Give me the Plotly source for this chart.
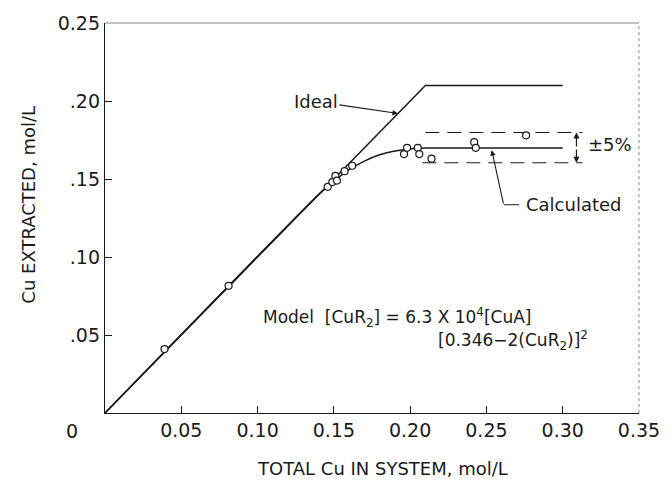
import plotly.graph_objects as go

# ---- data ----
ideal_x = [0.0, 0.21, 0.30]
ideal_y = [0.0, 0.21, 0.21]

calc_x = [0.0, 0.14, 0.15, 0.16, 0.17, 0.18, 0.19, 0.20, 0.21, 0.30]
calc_y = [0.0, 0.14, 0.1485, 0.156, 0.1615, 0.1655, 0.168, 0.1693, 0.1698, 0.1698]

meas_x = [0.039, 0.081, 0.146, 0.149, 0.151, 0.152, 0.157, 0.162,
          0.196, 0.198, 0.205, 0.206, 0.214, 0.242, 0.243, 0.276]
meas_y = [0.041, 0.0815, 0.145, 0.148, 0.152, 0.149, 0.155, 0.1585,
          0.166, 0.170, 0.170, 0.166, 0.163, 0.1736, 0.170, 0.178]

band_x_upper = [0.21, 0.313]
band_x_lower = [0.208, 0.313]
band_upper = [0.1798, 0.1798]
band_lower = [0.1604, 0.1604]
band_arrow_x = 0.309
band_mid = 0.1698

x_ticks = [0.05, 0.10, 0.15, 0.20, 0.25, 0.30, 0.35]
x_ticktext = ["0.05", "0.10", "0.15", "0.20", "0.25", "0.30", "0.35"]
y_ticks = [0.05, 0.10, 0.15, 0.20, 0.25]
y_ticktext = [".05", ".10", ".15", ".20", "0.25"]

FONT = "DejaVu Sans"
INK = "#1a1a1a"

fig = go.Figure()

fig.add_trace(go.Scatter(x=ideal_x, y=ideal_y, mode="lines",
                         line=dict(color=INK, width=1.5), showlegend=False))
fig.add_trace(go.Scatter(x=calc_x, y=calc_y, mode="lines",
                         line=dict(color=INK, width=1.5, shape="spline", smoothing=0.6),
                         showlegend=False))
fig.add_trace(go.Scatter(x=band_x_upper, y=band_upper, mode="lines",
                         line=dict(color=INK, width=1, dash="14px,8px"), showlegend=False))
fig.add_trace(go.Scatter(x=band_x_lower, y=band_lower, mode="lines",
                         line=dict(color=INK, width=1, dash="14px,8px"), showlegend=False))
fig.add_trace(go.Scatter(x=meas_x, y=meas_y, mode="markers",
                         marker=dict(symbol="circle", size=7, color="white",
                                     line=dict(color=INK, width=1.2)),
                         showlegend=False))

annotations = [
    # double arrow for +-5 %
    dict(x=band_arrow_x, y=band_upper[0], ax=band_arrow_x, ay=band_mid,
         axref="x", ayref="y", xref="x", yref="y", text="", showarrow=True,
         arrowhead=2, arrowsize=1, arrowwidth=1.2, arrowcolor=INK),
    dict(x=band_arrow_x, y=band_lower[0], ax=band_arrow_x, ay=band_mid,
         axref="x", ayref="y", xref="x", yref="y", text="", showarrow=True,
         arrowhead=2, arrowsize=1, arrowwidth=1.2, arrowcolor=INK),
    dict(x=0.3155, y=0.1722, xref="x", yref="y", text="±5%", showarrow=False,
         xanchor="left", yanchor="middle", font=dict(family=FONT, size=18, color=INK)),
    # Ideal
    dict(x=0.192, y=0.192, xref="x", yref="y", text="Ideal", showarrow=True,
         ax=-82, ay=-12, arrowhead=2, arrowsize=1, arrowwidth=1.1, arrowcolor=INK,
         font=dict(family=FONT, size=18, color=INK)),
    # Calculated
    dict(x=0.2535, y=0.1685, xref="x", yref="y", text="", showarrow=True,
         ax=12, ay=55, arrowhead=2, arrowsize=1, arrowwidth=1.1, arrowcolor=INK),
    dict(x=0.2745, y=0.1335, xref="x", yref="y", text="Calculated", showarrow=False,
         xanchor="left", yanchor="middle", font=dict(family=FONT, size=18, color=INK)),
    # Model
    dict(x=0.102, y=0.0612, xref="x", yref="y",
         text="Model  [CuR<sub>2</sub>] = 6.3 X 10<sup>4</sup>[CuA]",
         showarrow=False, xanchor="left", yanchor="middle",
         font=dict(family=FONT, size=17, color=INK)),
    dict(x=0.217, y=0.0462, xref="x", yref="y",
         text="[0.346\u22122(CuR<sub>2</sub>)]<sup>2</sup>",
         showarrow=False, xanchor="left", yanchor="middle",
         font=dict(family=FONT, size=17, color=INK)),
    # origin label
    dict(x=-0.0626, y=-0.045, xref="paper", yref="paper", text="0", showarrow=False,
         xanchor="center", yanchor="middle", font=dict(family=FONT, size=19, color=INK)),
    # axis titles
    dict(x=0.52, y=-0.143, xref="paper", yref="paper", text="TOTAL Cu IN SYSTEM, mol/L",
         showarrow=False, xanchor="center", yanchor="middle",
         font=dict(family=FONT, size=18, color=INK)),
    dict(x=-0.1436, y=0.535, xref="paper", yref="paper", text="Cu EXTRACTED, mol/L",
         showarrow=False, textangle=-90, xanchor="center", yanchor="middle",
         font=dict(family=FONT, size=18, color=INK)),
]

shapes = [
    dict(type="line", xref="paper", yref="paper", x0=0, y0=1, x1=1, y1=1,
         line=dict(color="#888888", width=1)),
    dict(type="line", xref="paper", yref="paper", x0=1, y0=0, x1=1, y1=1,
         line=dict(color="#888888", width=1, dash="dot")),
    dict(type="line", xref="x", yref="y", x0=0.2615, y0=0.1335, x1=0.2715, y1=0.1335,
         line=dict(color=INK, width=1)),
]

fig.update_layout(
    width=672, height=487,
    margin=dict(l=105, r=24, t=14, b=74),
    paper_bgcolor="white", plot_bgcolor="white",
    font=dict(family=FONT, size=19, color=INK),
    showlegend=False,
    annotations=annotations,
    shapes=shapes,
    xaxis=dict(range=[0, 0.35], tickvals=x_ticks, ticktext=x_ticktext,
               ticks="inside", ticklen=7, tickcolor=INK, tickwidth=1,
               showline=True, linecolor=INK, linewidth=1.3,
               showgrid=False, zeroline=False,
               tickfont=dict(family=FONT, size=19, color=INK)),
    yaxis=dict(range=[0, 0.25], tickvals=y_ticks, ticktext=y_ticktext,
               ticks="inside", ticklen=7, tickcolor=INK, tickwidth=1,
               showline=True, linecolor=INK, linewidth=1.3,
               showgrid=False, zeroline=False,
               tickfont=dict(family=FONT, size=19, color=INK)),
)

fig.write_html("out.html")
